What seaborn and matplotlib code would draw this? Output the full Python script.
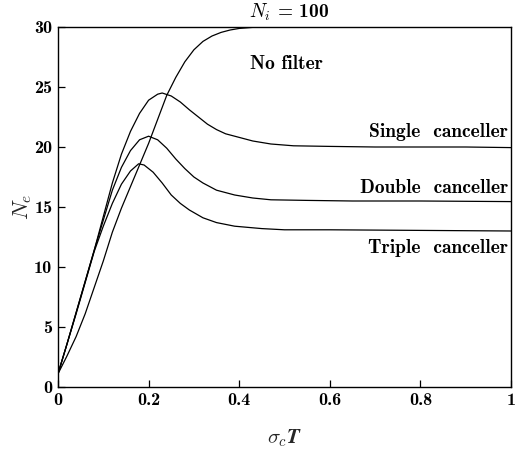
import numpy as np
import pandas as pd
import matplotlib
matplotlib.use("Agg")
import matplotlib.pyplot as plt
import seaborn as sns

# ---- data ----
x_nofilter = [0.0, 0.02, 0.04, 0.06, 0.08, 0.10, 0.12, 0.14, 0.16, 0.18, 0.20, 0.22,
              0.24, 0.26, 0.28, 0.30, 0.32, 0.34, 0.36, 0.38, 0.40, 0.43, 0.46, 0.6, 0.8, 1.0]
y_nofilter = [1.1, 2.6, 4.2, 6.1, 8.3, 10.5, 12.9, 14.9, 16.7, 18.5, 20.3, 22.3,
              24.3, 25.8, 27.1, 28.1, 28.8, 29.25, 29.55, 29.75, 29.88, 29.97, 30.0, 30.0, 30.0, 30.0]

x_single = [0.0, 0.02, 0.04, 0.06, 0.08, 0.10, 0.12, 0.14, 0.16, 0.18, 0.20, 0.22, 0.23,
            0.25, 0.27, 0.29, 0.31, 0.33, 0.35, 0.37, 0.40, 0.43, 0.47, 0.52, 0.6, 0.7, 0.8, 0.9, 1.0]
y_single = [1.1, 3.6, 6.2, 8.8, 11.4, 14.2, 17.0, 19.4, 21.3, 22.8, 23.9, 24.4, 24.5,
            24.25, 23.75, 23.1, 22.5, 21.9, 21.45, 21.1, 20.8, 20.5, 20.25, 20.1, 20.05, 20.0, 20.0, 20.0, 19.95]

x_double = [0.0, 0.02, 0.04, 0.06, 0.08, 0.10, 0.12, 0.14, 0.16, 0.18, 0.20, 0.22, 0.24,
            0.26, 0.28, 0.30, 0.32, 0.35, 0.39, 0.43, 0.47, 0.55, 0.65, 0.8, 1.0]
y_double = [1.1, 3.6, 6.2, 8.8, 11.4, 13.9, 16.4, 18.3, 19.7, 20.6, 20.9, 20.6, 19.9,
            19.0, 18.2, 17.5, 17.0, 16.4, 16.0, 15.75, 15.6, 15.55, 15.5, 15.5, 15.45]

x_triple = [0.0, 0.02, 0.04, 0.06, 0.08, 0.10, 0.12, 0.14, 0.16, 0.178, 0.19, 0.21, 0.23,
            0.25, 0.27, 0.29, 0.32, 0.35, 0.39, 0.45, 0.5, 0.6, 0.8, 1.0]
y_triple = [1.1, 3.6, 6.1, 8.7, 11.3, 13.4, 15.3, 16.9, 18.0, 18.6, 18.5, 17.9, 17.0,
            16.0, 15.3, 14.75, 14.1, 13.7, 13.4, 13.2, 13.1, 13.1, 13.05, 13.0]

series_names = ["No filter", "Single canceller", "Double canceller", "Triple canceller"]
x_ticks = [0, 0.2, 0.4, 0.6, 0.8, 1]
x_ticklabels = ["0", "0.2", "0.4", "0.6", "0.8", "1"]
y_ticks = [0, 5, 10, 15, 20, 25, 30]
y_ticklabels = ["0", "5", "10", "15", "20", "25", "30"]
title_text = r"$\boldsymbol{N_i}$ = 100"

frames = []
for name, xs, ys in zip(series_names,
                        [x_nofilter, x_single, x_double, x_triple],
                        [y_nofilter, y_single, y_double, y_triple]):
    frames.append(pd.DataFrame({"x": xs, "y": ys, "series": name}))
df = pd.concat(frames, ignore_index=True)

sns.set_theme(style="ticks")
plt.rcParams["font.family"] = ["cmb10", "DejaVu Serif"]
plt.rcParams["mathtext.fontset"] = "cm"
plt.rcParams["axes.unicode_minus"] = False

fig = plt.figure(figsize=(5.16, 4.53), dpi=100)
ax = fig.add_axes([0.1124, 0.1457, 0.8779, 0.7947])

sns.lineplot(data=df, x="x", y="y", hue="series", palette=["black"] * 4,
             legend=False, linewidth=0.9, ax=ax, sort=False, estimator=None)

ax.set_xlim(0, 1)
ax.set_ylim(0, 30)
ax.set_xticks(x_ticks)
ax.set_xticklabels(x_ticklabels)
ax.set_yticks(y_ticks)
ax.set_yticklabels(y_ticklabels)
ax.tick_params(direction="in", length=5, width=0.9, labelsize=13, pad=4, colors="black")
for s in ax.spines.values():
    s.set_linewidth(1.0)
    s.set_color("black")
    s.set_visible(True)

ax.set_xlabel(r"$\boldsymbol{\sigma_c T}$", fontsize=15, labelpad=14)
ax.set_ylabel(r"$\boldsymbol{N_e}$", fontsize=16, labelpad=0)

tkw = dict(fontsize=14, color="black")
ax.text(0.51, 1.012, title_text, transform=ax.transAxes, ha="center", va="bottom",
        fontsize=14, color="black")
ax.text(0.424, 26.9, "No filter", ha="left", va="center", **tkw)
ax.text(0.994, 21.25, "Single  canceller", ha="right", va="center", **tkw)
ax.text(0.994, 16.6, "Double  canceller", ha="right", va="center", **tkw)
ax.text(0.994, 11.6, "Triple  canceller", ha="right", va="center", **tkw)

fig.savefig("out.png", dpi=100, facecolor="white")
